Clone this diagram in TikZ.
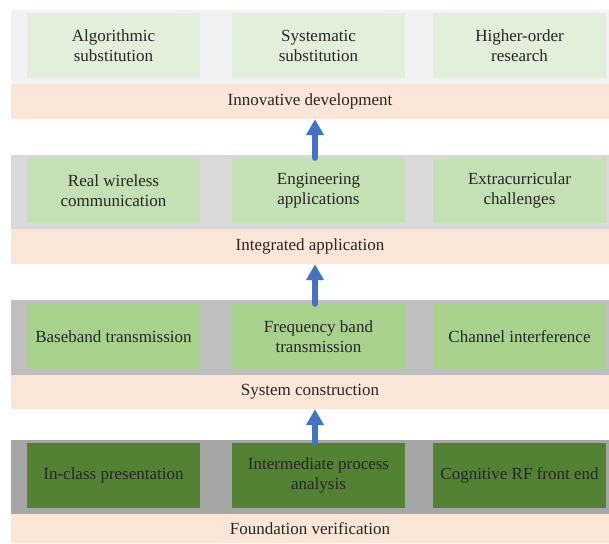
\documentclass[tikz,border=0pt]{standalone}
\usepackage{fontspec}
\setmainfont{Liberation Serif}
\usetikzlibrary{arrows.meta}
\definecolor{greyA}{HTML}{F2F2F2}
\definecolor{greyB}{HTML}{D9D9D9}
\definecolor{greyC}{HTML}{BFBFBF}
\definecolor{greyD}{HTML}{A6A6A6}
\definecolor{greenA}{HTML}{E2EFDA}
\definecolor{greenB}{HTML}{C5E0B4}
\definecolor{greenC}{HTML}{A9D18E}
\definecolor{greenD}{HTML}{548235}
\definecolor{peach}{HTML}{FBE5D6}
\definecolor{arrowblue}{HTML}{4472C4}
\begin{document}
\begin{tikzpicture}[x = 1pt, y = -1pt, font = \fontsize{17}{20}\selectfont,
  box/.style = {inner sep = 0pt, minimum width = 173pt, minimum height = 65pt, align = center, text = black!85},
  band/.style = {fill = peach, inner sep = 0pt, minimum width = 598pt, align = center, text = black!85},
  up/.style = {color = arrowblue, line width = 6pt, line cap = round, -{Triangle[length = 16pt, width = 17pt]}}]
\useasboundingbox (0,0) rectangle (609,543);
\fill[color = greyA] (11,10) rectangle (609,84);
\fill[color = greyB] (11,155) rectangle (609,229);
\fill[color = greyC] (11,300) rectangle (609,375);
\fill[color = greyD] (11,440) rectangle (609,514);
\node [band, minimum height = 35pt] (P1) at (310,101.5) {Innovative development};
\node [box, fill = greenA] (A) at (113.5,45.5) {Algorithmic\\substitution};
\node [box, fill = greenA] (B) at (318.5,45.5) {Systematic\\substitution};
\node [box, fill = greenA] (C) at (519.5,45.5) {Higher-order\\research};
\node [band, minimum height = 35pt] (P2) at (310,246.5) {Integrated application};
\node [box, fill = greenB] (D) at (113.5,190.5) {Real wireless\\communication};
\node [box, fill = greenB] (E) at (318.5,190.5) {Engineering\\applications};
\node [box, fill = greenB] (F) at (519.5,190.5) {Extracurricular\\challenges};
\node [band, minimum height = 34pt] (P3) at (310,392) {System construction};
\node [box, fill = greenC] (G) at (113.5,336.5) {Baseband transmission};
\node [box, fill = greenC] (H) at (318.5,336.5) {Frequency band\\transmission};
\node [box, fill = greenC] (I) at (519.5,336.5) {Channel interference};
\node [band, minimum height = 29pt] (P4) at (310,528.5) {Foundation verification};
\node [box, fill = greenD] (J) at (113.5,475.5) {In-class presentation};
\node [box, fill = greenD] (K) at (318.5,475.5) {Intermediate process\\analysis};
\node [box, fill = greenD] (L) at (519.5,475.5) {Cognitive RF front end};
\draw [up] ([xshift = -3.5pt]E.north) -- ([xshift = -3.5pt]E.north |- P1.south);
\draw [up] ([xshift = -3.5pt]H.north) -- ([xshift = -3.5pt]H.north |- P2.south);
\draw [up] ([xshift = -3.5pt]K.north) -- ([xshift = -3.5pt]K.north |- P3.south);
\end{tikzpicture}
\end{document}
